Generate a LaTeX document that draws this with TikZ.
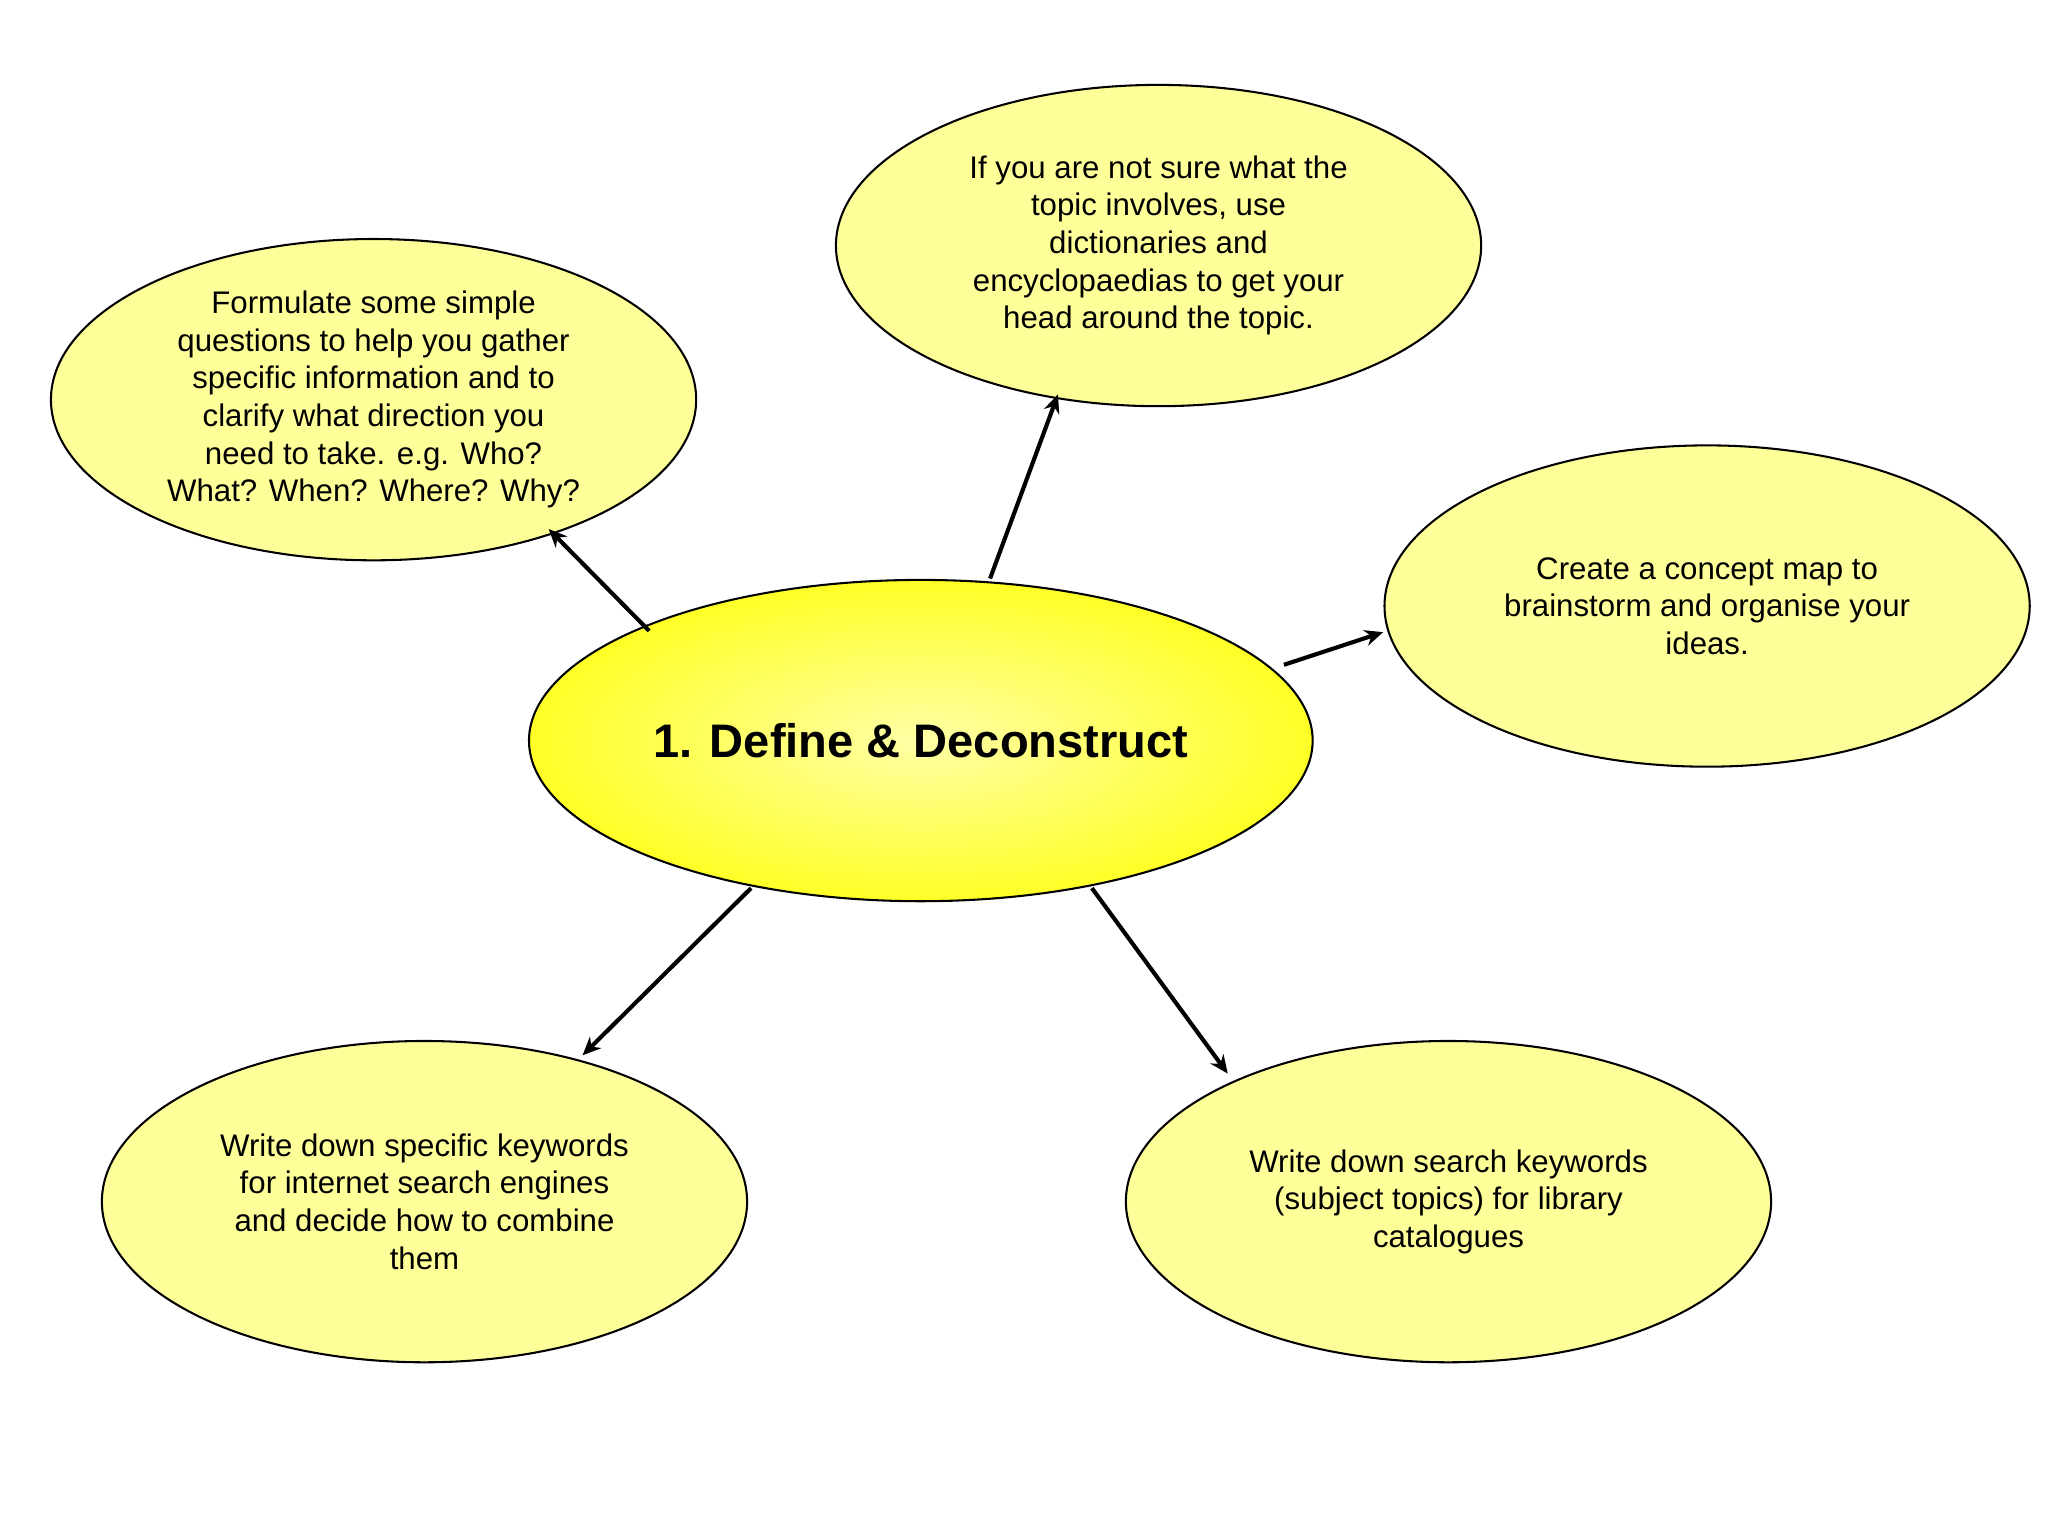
\documentclass[tikz,border=0pt]{standalone}
\usepackage{fontspec}
\setmainfont{Liberation Sans}
\usetikzlibrary{shapes.geometric,arrows.meta}
\definecolor{lyel}{HTML}{FFFF99}
\begin{document}
\begin{tikzpicture}[x=0.02cm,y=-0.02cm,
  bub/.style={ellipse,draw=black,line width=0.9pt,fill=lyel,minimum width=494*0.02cm,minimum height=246*0.02cm,inner sep=0pt,align=center,font=\fontsize{13.6}{16.4}\selectfont},
  arr/.style={line width=1.8pt,-{Stealth[length=8pt,width=7pt]}}]
\useasboundingbox (0,0) rectangle (1568,1175);
\fill[white] (0,0) rectangle (1568,1175);
\node[ellipse,draw=black,line width=0.9pt,minimum width=600*0.02cm,minimum height=246*0.02cm,inner sep=0pt,
  shading=radial,inner color=yellow!35,outer color=yellow!85,
  font=\fontsize{20.5}{24}\selectfont\bfseries] (c) at (705,567) {1. Define \& Deconstruct};
\node[bub] (tl) at (286,306) {Formulate some simple\\questions to help you gather\\specific information and to\\clarify what direction you\\need to take. e.g. Who?\\What? When? Where? Why?};
\node[bub] (t) at (887,188) {If you are not sure what the\\topic involves, use\\dictionaries and\\encyclopaedias to get your\\head around the topic.};
\node[bub] (r) at (1307,464) {Create a concept map to\\brainstorm and organise your\\ideas.};
\node[bub] (bl) at (325,920) {Write down specific keywords\\for internet search engines\\and decide how to combine\\them};
\node[bub] (br) at (1109,920) {Write down search keywords\\(subject topics) for library\\catalogues};
\coordinate (a1) at (497,483); \coordinate (a2) at (758,443);
\coordinate (a3) at (983,509); \coordinate (a4) at (575,680);
\coordinate (a5) at (836,680);
\draw[arr] (a1) -- (420,405) coordinate (e1);
\draw[arr] (a2) -- (810,302) coordinate (e2);
\draw[arr] (a3) -- (1059,484) coordinate (e3);
\draw[arr] (a4) -- (446,808) coordinate (e4);
\draw[arr] (a5) -- (940,822) coordinate (e5);
\end{tikzpicture}
\end{document}
